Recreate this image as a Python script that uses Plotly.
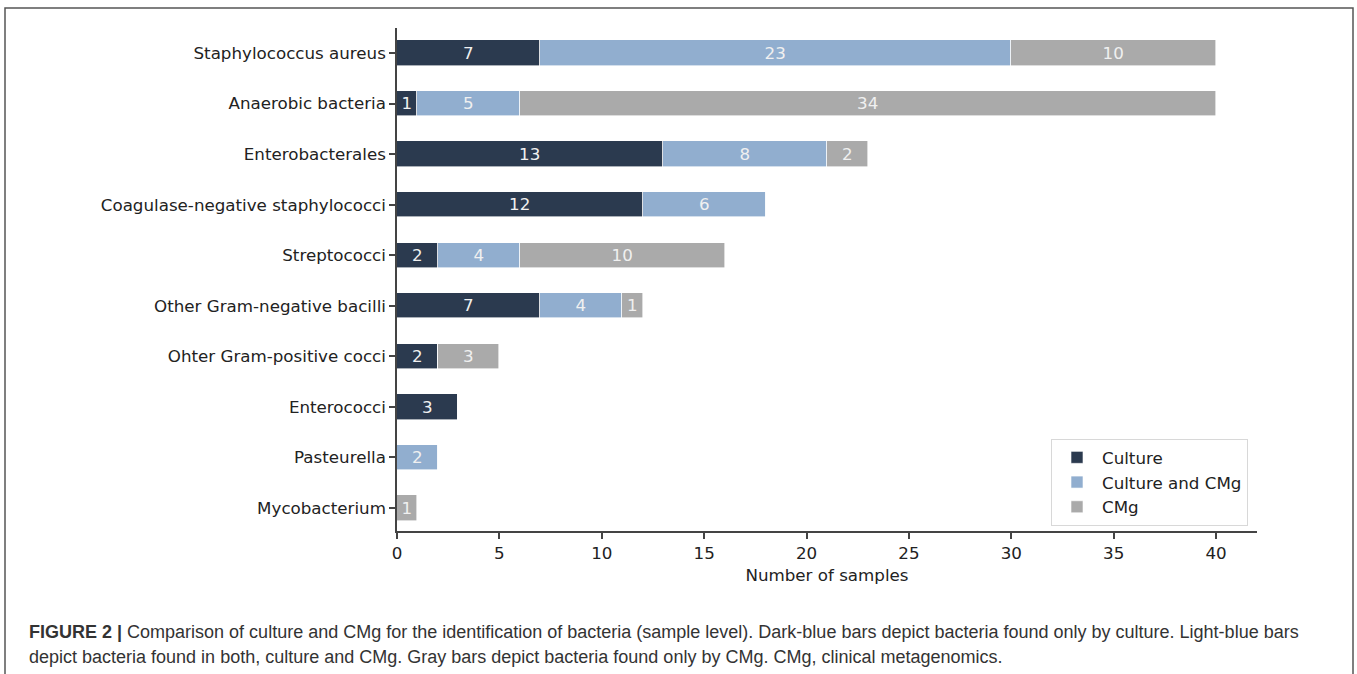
import plotly.graph_objects as go

categories = ["Staphylococcus aureus", "Anaerobic bacteria", "Enterobacterales",
              "Coagulase-negative staphylococci", "Streptococci", "Other Gram-negative bacilli",
              "Ohter Gram-positive cocci", "Enterococci", "Pasteurella", "Mycobacterium"]
culture = [7, 1, 13, 12, 2, 7, 2, 3, 0, 0]
both = [23, 5, 8, 6, 4, 4, 0, 0, 2, 0]
cmg = [10, 34, 2, 0, 10, 1, 3, 0, 0, 1]
series_names = ["Culture", "Culture and CMg", "CMg"]
colors = ["#2b3a4f", "#91aecf", "#aaaaaa"]
x_ticks = [0, 5, 10, 15, 20, 25, 30, 35, 40]

caption_bold = "FIGURE 2 |"
caption_1 = (" Comparison of culture and CMg for the identification of bacteria (sample level). "
             "Dark-blue bars depict bacteria found only by culture. Light-blue bars")
caption_2 = "depict bacteria found in both, culture and CMg. Gray bars depict bacteria found only by CMg. CMg, clinical metagenomics."

FS = 16.7
ypos = list(range(len(categories)))
fig = go.Figure()
for name, vals, col in zip(series_names, [culture, both, cmg], colors):
    fig.add_trace(go.Bar(
        name=name, y=ypos, x=vals, orientation="h", width=0.5,
        marker=dict(color=col, line=dict(color="white", width=0.6)),
        text=[str(v) if v else "" for v in vals],
        textposition="inside", insidetextanchor="middle", textangle=0,
        constraintext="none",
        textfont=dict(family="DejaVu Sans", size=FS, color="#f0f0f0"),
    ))

L, R, T, B = 397, 1257, 28, 531
W, H = 1357, 674
pw, ph = R - L, B - T

def px(x):
    return (x - L) / pw

def py(y):
    return (B - y) / ph

fig.update_layout(
    barmode="stack",
    width=W, height=H,
    margin=dict(l=L, r=W - R, t=T, b=H - B, autoexpand=False),
    paper_bgcolor="white", plot_bgcolor="white",
    font=dict(family="DejaVu Sans", size=FS, color="#222"),
    bargap=0,
    xaxis=dict(range=[0, 42], tickvals=x_ticks, showgrid=False, zeroline=False,
               showline=True, linecolor="#444", linewidth=1.5,
               ticks="outside", ticklen=6, tickwidth=1.5, tickcolor="#444",
               tickfont=dict(size=FS, color="#222"),
               title=dict(text="Number of samples", font=dict(size=FS, color="#222"), standoff=8)),
    yaxis=dict(range=[9.455, -0.495], tickvals=ypos, ticktext=categories, showgrid=False,
               zeroline=False, showline=True, linecolor="#444", linewidth=1.5,
               ticks="outside", ticklen=6, tickwidth=1.5, tickcolor="#444",
               tickfont=dict(size=FS, color="#222")),
    legend=dict(x=px(1248), y=py(526), xanchor="right", yanchor="bottom",
                bgcolor="white", bordercolor="#d8d8d8", borderwidth=1,
                font=dict(family="DejaVu Sans", size=FS, color="#222"),
                traceorder="normal", tracegroupgap=0, itemwidth=40),
    showlegend=True,
)

fig.add_shape(type="rect", xref="paper", yref="paper",
              x0=px(5), x1=px(1353), y0=py(690), y1=py(8),
              line=dict(color="#555", width=1.5), fillcolor="rgba(0,0,0,0)", layer="below")

fig.add_annotation(xref="paper", yref="paper", x=px(27), y=py(632), xanchor="left", yanchor="middle",
                   showarrow=False, align="left",
                   text="<b>" + caption_bold + "</b>" + caption_1,
                   font=dict(family="Liberation Sans", size=18, color="#333"))
fig.add_annotation(xref="paper", yref="paper", x=px(27), y=py(657), xanchor="left", yanchor="middle",
                   showarrow=False, align="left", text=caption_2,
                   font=dict(family="Liberation Sans", size=18, color="#333"))

fig.write_html("out.html")
